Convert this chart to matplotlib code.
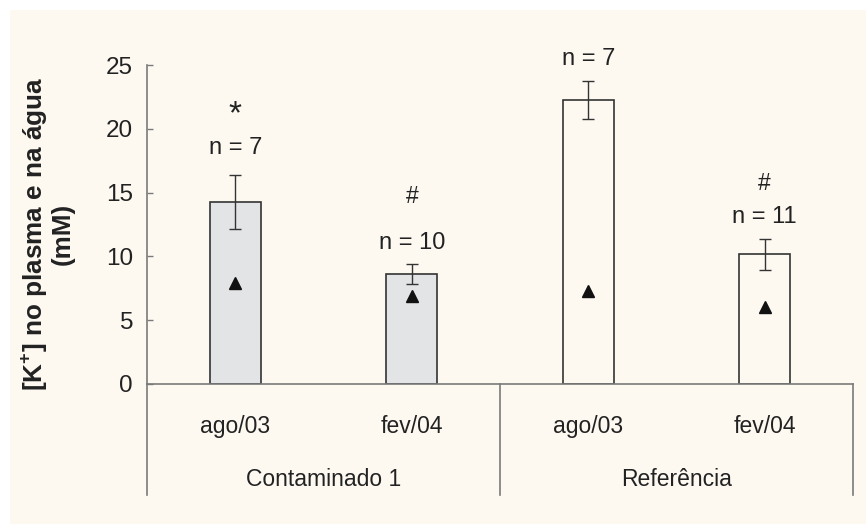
import matplotlib
matplotlib.use("Agg")
import matplotlib.pyplot as plt
from matplotlib.patches import Rectangle
import numpy as np

plt.rcParams["font.family"] = ["Liberation Sans", "DejaVu Sans"]
plt.rcParams["mathtext.fontset"] = "custom"
plt.rcParams["mathtext.rm"] = "Liberation Sans"
plt.rcParams["mathtext.bf"] = "Liberation Sans:bold"

# Plasma K+ (mean +/- SE, mM) per site and sampling, triangles = water K+
periods = ["ago/03", "fev/04", "ago/03", "fev/04"]
sites = ["Contaminado 1", "Referência"]
plasma_mean = [14.25, 8.6, 22.25, 10.15]
plasma_se = [2.1, 0.78, 1.5, 1.2]
water_k = [7.9, 6.9, 7.25, 6.05]
n_fish = [7, 10, 7, 11]
signif = ["*", "#", "", "#"]

# annotation heights (data units)
n_label_y = [18.5, 11.05, 25.5, 13.1]
mark_y = [21.1, 14.7, None, 15.7]

BG = "#fdf9f1"
GREY_BAR = "#e3e4e6"
EDGE = "#333333"
AXIS = "#7a7a7a"
INK = "#222222"
FS = 16.5

W, H = 866, 524
fig = plt.figure(figsize=(W / 100, H / 100), dpi=100, facecolor="white")
fig.patches.append(Rectangle((10 / W, 0), 1, 1 - 10 / H, transform=fig.transFigure,
                             facecolor=BG, edgecolor="none", zorder=-10))

ax = fig.add_axes([147 / W, 1 - 384 / H, (853 - 147) / W, (384 - 65) / H])
ax.set_facecolor("none")

x = np.arange(len(plasma_mean)) + 0.5
fills = [GREY_BAR, GREY_BAR, BG, BG]
ax.bar(x, plasma_mean, width=0.29, color=fills, edgecolor=EDGE, linewidth=1.2, zorder=2)
ax.errorbar(x, plasma_mean, yerr=plasma_se, fmt="none", ecolor=EDGE,
            elinewidth=1.0, capsize=4.5, capthick=1.0, zorder=3)
ax.plot(x, water_k, linestyle="none", marker="^", ms=9, color="#111111", zorder=4)

for xi, n, ny, mark, my in zip(x, n_fish, n_label_y, signif, mark_y):
    ax.text(xi, ny, f"n = {n}", ha="center", va="center", fontsize=17, color=INK)
    if mark:
        ax.text(xi, my, mark, ha="center", va="center",
                fontsize=24 if mark == "*" else FS, color=INK)

# category table under the axis
low = -8.7
for xv in [0, 2, 4]:
    ax.plot([xv, xv], [0, low], color=AXIS, lw=1.2, clip_on=False)
for xi, p in zip(x, periods):
    ax.text(xi, -3.35, p, ha="center", va="center", fontsize=FS, color=INK)
for gx, s in zip([1, 3], sites):
    ax.text(gx, -7.45, s, ha="center", va="center", fontsize=FS, color=INK)

ax.set_xlim(0, 4)
ax.set_ylim(0, 25)
ax.set_yticks([0, 5, 10, 15, 20, 25])
ax.set_xticks([])
ax.tick_params(axis="y", direction="in", length=4, width=1.0, color=AXIS,
               labelsize=17.5, labelcolor=INK, pad=10)
for side in ["top", "right"]:
    ax.spines[side].set_visible(False)
for side in ["left", "bottom"]:
    ax.spines[side].set_color(AXIS)
    ax.spines[side].set_linewidth(1.2)

fig.text(47 / W, 1 - 234 / H, "[K$^{\\mathbf{+}}$] no plasma e na água\n(mM)",
         rotation=90, ha="center", va="center", fontsize=18.8, fontweight="bold",
         color=INK, multialignment="center", linespacing=1.1)

fig.savefig("out.png", dpi=100, facecolor="white")
